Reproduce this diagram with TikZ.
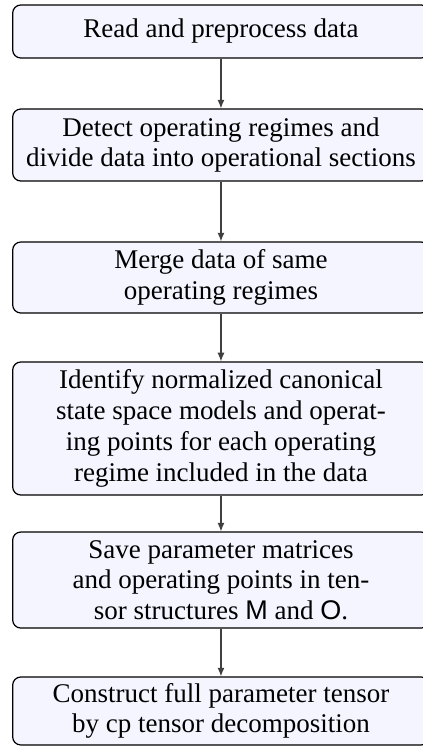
\documentclass[tikz,border=0pt]{standalone}
\usepackage{fontspec}
\setmainfont{Liberation Serif}
\setsansfont{Liberation Sans}
\usetikzlibrary{arrows.meta}

\definecolor{stepfill}{RGB}{245,245,255}

\tikzset{
    stepbox/.style={draw=black, fill=stepfill, rounded corners=3pt, line width=0.45pt,
        minimum width=5.424cm, align=center, inner sep=0pt,
        font=\fontsize{10}{11.4}\selectfont},
    flow/.style={draw=black!75, line width=0.4pt, -{Latex[length=3.2pt,width=2.6pt]}}
}

\begin{document}
\begin{tikzpicture}
        % \draw[help lines] (0,0) grid (6,-10);
        \clip (0,0) rectangle (5.507,-9.726);

        \node[stepbox, minimum height=0.690cm] (read)    at (2.877,-0.410) {Read and preprocess data};
        \node[stepbox, minimum height=0.937cm] (detect)  at (2.877,-1.888) {Detect operating regimes and\\divide data into operational sections};
        \node[stepbox, minimum height=0.924cm] (merge)   at (2.877,-3.613) {Merge data of same\\operating regimes};
        \node[stepbox, minimum height=1.732cm] (ident)   at (2.877,-5.579) {Identify normalized canonical\\state space models and operat-\\ing points for each operating\\regime included in the data};
        \node[stepbox, minimum height=1.250cm] (save)    at (2.877,-7.552) {Save parameter matrices\\and operating points in ten-\\sor structures \textsf{M} and \textsf{O}.};
        \node[stepbox, minimum height=0.885cm] (constr)  at (2.877,-9.257) {Construct full parameter tensor\\by cp tensor decomposition};

        \draw[flow] (read) -- (detect);
        \draw[flow] (detect) -- (merge);
        \draw[flow] (merge) -- (ident);
        \draw[flow] (ident) -- (save);
        \draw[flow] (save) -- (constr);

    \end{tikzpicture}
\end{document}
